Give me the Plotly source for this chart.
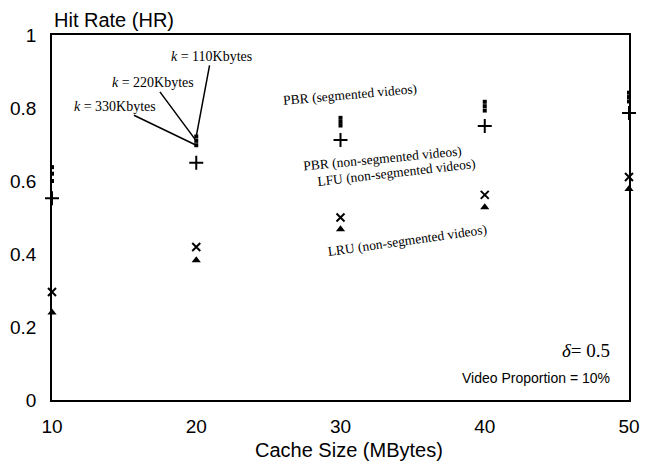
import plotly.graph_objects as go

cache_size = [10, 20, 30, 40, 50]
pbr_seg_110 = [0.638, 0.722, 0.773, 0.817, 0.842]
pbr_seg_220 = [0.620, 0.710, 0.762, 0.805, 0.830]
pbr_seg_330 = [0.600, 0.698, 0.752, 0.793, 0.818]
pbr_nonseg = [0.553, 0.650, 0.712, 0.751, 0.786]
lfu_nonseg = [0.296, 0.419, 0.500, 0.562, 0.611]
lru_nonseg = [0.240, 0.383, 0.468, 0.528, 0.578]
x_ticks = [10, 20, 30, 40, 50]
y_ticks = [0, 0.2, 0.4, 0.6, 0.8, 1]
y_tick_text = ["0", "0.2", "0.4", "0.6", "0.8", "1"]

fig = go.Figure()
for ys, name in [(pbr_seg_110, "k=110"), (pbr_seg_220, "k=220"), (pbr_seg_330, "k=330")]:
    fig.add_trace(go.Scatter(x=cache_size, y=ys, mode="markers", name=name,
                             marker=dict(symbol="square", size=4, color="black",
                                         line=dict(width=0)),
                             cliponaxis=False))
fig.add_trace(go.Scatter(x=cache_size, y=pbr_nonseg, mode="markers", name="PBR",
                         marker=dict(symbol="cross-thin", size=10,
                                     line=dict(width=2, color="black")),
                         cliponaxis=False))
fig.add_trace(go.Scatter(x=cache_size, y=lfu_nonseg, mode="markers", name="LFU",
                         marker=dict(symbol="x-thin", size=8,
                                     line=dict(width=2, color="black")),
                         cliponaxis=False))
fig.add_trace(go.Scatter(x=cache_size, y=lru_nonseg, mode="markers", name="LRU",
                         marker=dict(symbol="triangle-up", size=8, color="black",
                                     line=dict(width=0)),
                         cliponaxis=False))

serif = "Liberation Serif, Times New Roman, serif"
sans = "Liberation Sans, Arial, sans-serif"

ann = []
# k labels with leader lines
for txt, yv, ax, ay in [("<i>k</i> = 110Kbytes", pbr_seg_110[1], 15, -80),
                        ("<i>k</i> = 220Kbytes", pbr_seg_220[1], -43, -58),
                        ("<i>k</i> = 330Kbytes", pbr_seg_330[1], -81, -39)]:
    ann.append(dict(x=cache_size[1], y=yv, xref="x", yref="y", text=txt,
                    showarrow=True, arrowhead=0, arrowwidth=1.5, arrowcolor="black",
                    ax=ax, ay=ay, font=dict(family=serif, size=14, color="black")))

for txt, xv, yv, ang in [("PBR (segmented videos)", 30.66, 0.836, -5),
                         ("PBR (non-segmented videos)", 32.88, 0.663, -5.5),
                         ("LFU (non-segmented videos)", 33.85, 0.622, -6.5),
                         ("LRU (non-segmented videos)", 34.6, 0.438, -8)]:
    ann.append(dict(x=xv, y=yv, xref="x", yref="y", text=txt, showarrow=False,
                    textangle=ang, font=dict(family=serif, size=13.5, color="black")))

ann.append(dict(x=48.82, y=0.137, xref="x", yref="y", text="<i>δ</i>= 0.5",
                showarrow=False, xanchor="right",
                font=dict(family=serif, size=19, color="black")))
ann.append(dict(x=48.85, y=0.060, xref="x", yref="y", text="Video Proportion = 10%",
                showarrow=False, xanchor="right",
                font=dict(family=sans, size=14, color="black")))
ann.append(dict(x=0, y=1.041, xref="paper", yref="paper", text="Hit Rate (HR)",
                showarrow=False, xanchor="left", yanchor="middle",
                font=dict(family=sans, size=20, color="black")))
ann.append(dict(x=0.515, y=-0.137, xref="paper", yref="paper", text="Cache Size (MBytes)",
                showarrow=False, xanchor="center", yanchor="middle",
                font=dict(family=sans, size=20, color="black")))

fig.update_layout(
    width=640, height=466,
    margin=dict(l=44, r=19, t=27, b=74),
    plot_bgcolor="white", paper_bgcolor="white",
    showlegend=False,
    annotations=ann,
    xaxis=dict(range=[10, 50], tickvals=x_ticks, showgrid=False, zeroline=False,
               showline=True, linecolor="black", linewidth=1.5, mirror=True,
               ticks="", ticklabelstandoff=8, automargin=False,
               tickfont=dict(family=sans, size=19, color="black")),
    yaxis=dict(range=[0, 1], tickvals=y_ticks, ticktext=y_tick_text, showgrid=False,
               zeroline=False, showline=True, linecolor="black", linewidth=1.5,
               mirror=True, ticks="", ticklabelstandoff=10, automargin=False,
               tickfont=dict(family=sans, size=19, color="black")),
)

fig.write_html("out.html")
